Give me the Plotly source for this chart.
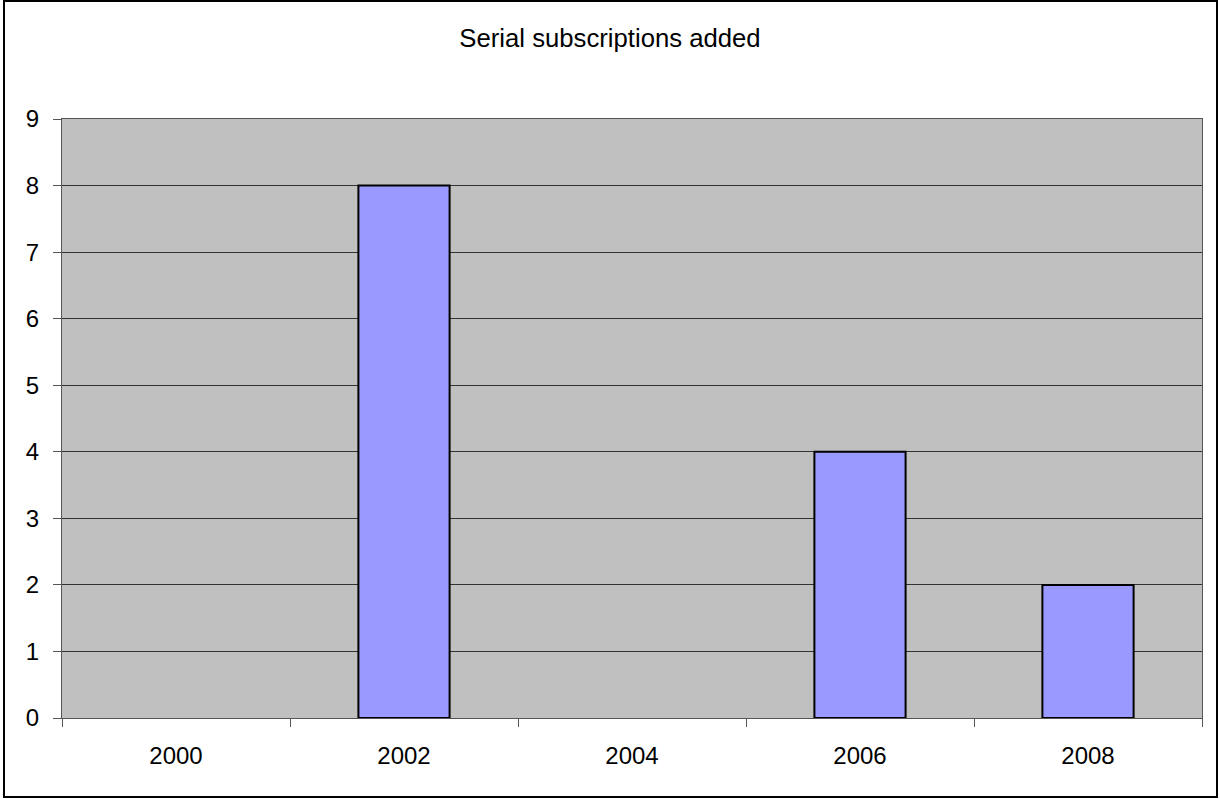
import plotly.graph_objects as go

categories = ["2000", "2002", "2004", "2006", "2008"]
values = [0, 8, 0, 4, 2]
y_ticks = [0, 1, 2, 3, 4, 5, 6, 7, 8, 9]
title_text = "Serial subscriptions added"

# no outline for empty (zero) bars, as in the reference
outline_widths = [2 if v != 0 else 0 for v in values]

fig = go.Figure()
fig.add_trace(go.Bar(
    x=categories, y=values, width=0.4,
    marker=dict(color="#9999FF", line=dict(color="#000000", width=outline_widths)),
))

font_family = "Liberation Sans, Arial, sans-serif"
fig.update_layout(
    width=1220, height=799,
    margin=dict(l=62, r=18, t=119, b=81),
    paper_bgcolor="#FFFFFF",
    plot_bgcolor="#C0C0C0",
    showlegend=False,
    font=dict(family=font_family, size=24, color="#000000"),
    title=dict(text=title_text, x=0.5, xref="container", xanchor="center",
               y=1 - 38 / 799, yref="container", yanchor="middle",
               font=dict(family=font_family, size=25.7, color="#000000")),
    bargap=0.6,
)
fig.update_xaxes(
    type="category", categoryorder="array", categoryarray=categories,
    tickson="boundaries", ticks="outside", ticklen=8, tickwidth=1, tickcolor="#555555",
    showline=True, linecolor="#555555", linewidth=1, mirror=True,
    showgrid=False, ticklabelstandoff=16,
    tickfont=dict(family=font_family, size=24, color="#000000"),
)
fig.update_yaxes(
    range=[0, 9], tickvals=y_ticks, ticks="outside", ticklen=8, tickwidth=1, tickcolor="#555555",
    showline=True, linecolor="#555555", linewidth=1, mirror=True,
    showgrid=True, gridcolor="#333333", gridwidth=1, zeroline=False,
    ticklabelstandoff=9,
    tickfont=dict(family=font_family, size=24, color="#000000"),
)
# outer chart border
fig.add_shape(type="rect", xref="paper", yref="paper",
              x0=(4 - 62) / 1140, x1=(1217 - 62) / 1140,
              y0=(718 - 797) / 599, y1=(718 - 1) / 599,
              line=dict(color="#000000", width=2), fillcolor="rgba(0,0,0,0)", layer="below")

fig.write_html("out.html",
               config={"displayModeBar": False},
               post_script="document.body.style.margin='0';document.body.style.overflow='hidden';")
